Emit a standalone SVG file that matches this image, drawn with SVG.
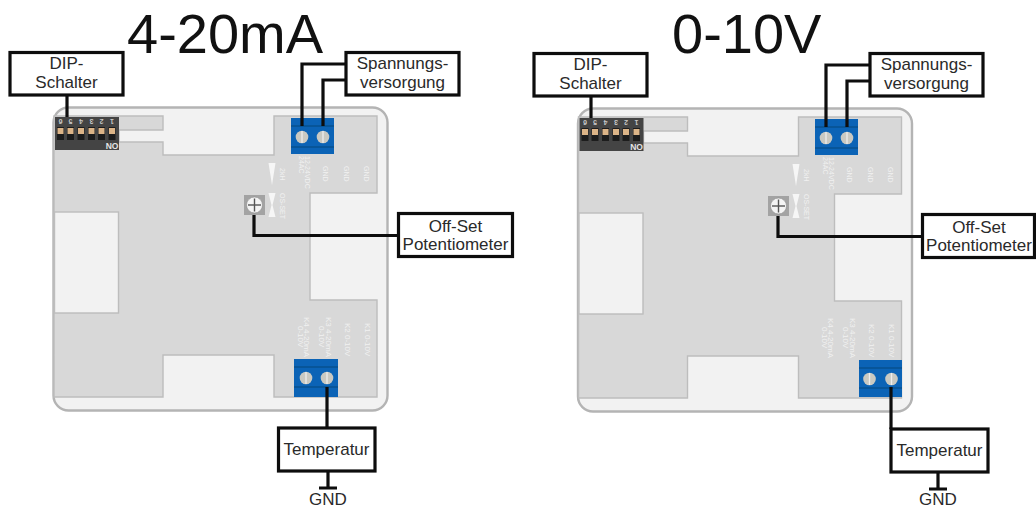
<svg xmlns="http://www.w3.org/2000/svg" width="1036" height="507" viewBox="0 0 1036 507">
<style>
text{font-family:"Liberation Sans",Arial,sans-serif}
.title{font-size:56px;fill:#111}
.lbl{font-size:17px;fill:#2a2a2a;text-anchor:middle}
.box{fill:#fff;stroke:#0d0d0d;stroke-width:3.2}
.wire{fill:none;stroke:#0d0d0d;stroke-width:3.2}
.pcb{fill:#f2f2f2;stroke:#b4b4b4;stroke-width:2.4}
.cu{fill:#d8d8d8;stroke:#bdbdbd;stroke-width:1.4}
.cut{fill:#f2f2f2;stroke:#bdbdbd;stroke-width:1.4}
.dip{fill:#444}
.slot{fill:#1c1c1c}
.sw{fill:#dcb487}
.n{font-size:7px;font-weight:bold;fill:#c8c8c8;text-anchor:middle}
.no{font-size:8.5px;font-weight:bold;fill:#e4e4e4;text-anchor:middle}
.term{fill:#0b63b6}
.ln{stroke:#07508f;stroke-width:1.4}
.screw{fill:#c9c9c2}
.slit{stroke:#eee;stroke-width:1.3}
.silk{font-size:7px;fill:#f1f1f1}
.k{font-size:8px}
.tri{fill:#f6f6f6}
.pots{fill:#a3a3a3}
.potc{fill:#f4f4f4;stroke:#8a8a8a;stroke-width:.6}
.plus{stroke:#555;stroke-width:1.4}
</style>
<defs>
<path id="cu-shape" d="M54 116H163V130H119V142H163V155H274V116H377V193H310V300H377V397H274V355H163V397H54Z"/>
</defs>

<text id="title-left" class="title" x="127" y="53">4-20mA</text>
<text id="title-right" class="title" x="672" y="53">0-10V</text>

<g id="board-left">
<rect class="pcb" x="53.5" y="107.5" width="334" height="303" rx="15"/>
<use href="#cu-shape" class="cu"/>
<rect class="cut" x="54.5" y="212" width="64" height="101"/>
</g>

<g id="board-right" transform="translate(524.5,1)">
<rect class="pcb" x="53.5" y="107.5" width="334" height="303" rx="15"/>
<use href="#cu-shape" class="cu"/>
<rect class="cut" x="54.5" y="212" width="64" height="101"/>
</g>

<g id="dip-left">
<rect class="dip" x="55" y="117" width="64" height="33"/>
<g class="slot"><rect x="57" y="127" width="7" height="13"/><rect x="67" y="127" width="7" height="13"/><rect x="77.500" y="127" width="7" height="13"/><rect x="88" y="127" width="7" height="13"/><rect x="98" y="127" width="7" height="13"/><rect x="108.500" y="127" width="7" height="13"/></g>
<g class="sw"><rect x="57.500" y="128" width="6" height="6"/><rect x="67.500" y="128" width="6" height="6"/><rect x="78" y="128" width="6" height="6"/><rect x="88.500" y="128" width="6" height="6"/><rect x="98.500" y="128" width="6" height="6"/><rect x="109" y="128" width="6" height="6"/></g>
<g class="n">
<text transform="rotate(180 60.500 121.500)" x="60.500" y="124">6</text>
<text transform="rotate(180 70.500 121.500)" x="70.500" y="124">5</text>
<text transform="rotate(180 81 121.500)" x="81" y="124">4</text>
<text transform="rotate(180 91.500 121.500)" x="91.500" y="124">3</text>
<text transform="rotate(180 101.500 121.500)" x="101.500" y="124">2</text>
<text transform="rotate(180 112 121.500)" x="112" y="124">1</text>
</g>
<text class="no" x="112" y="149">NO</text>
</g>

<g id="dip-right" transform="translate(524.5,1)">
<rect class="dip" x="55" y="117" width="64" height="33"/>
<g class="slot"><rect x="57" y="127" width="7" height="13"/><rect x="67" y="127" width="7" height="13"/><rect x="77.500" y="127" width="7" height="13"/><rect x="88" y="127" width="7" height="13"/><rect x="98" y="127" width="7" height="13"/><rect x="108.500" y="127" width="7" height="13"/></g>
<g class="sw"><rect x="57.500" y="128" width="6" height="6"/><rect x="67.500" y="128" width="6" height="6"/><rect x="78" y="128" width="6" height="6"/><rect x="88.500" y="128" width="6" height="6"/><rect x="98.500" y="128" width="6" height="6"/><rect x="109" y="128" width="6" height="6"/></g>
<g class="n">
<text transform="rotate(180 60.500 121.500)" x="60.500" y="124">6</text>
<text transform="rotate(180 70.500 121.500)" x="70.500" y="124">5</text>
<text transform="rotate(180 81 121.500)" x="81" y="124">4</text>
<text transform="rotate(180 91.500 121.500)" x="91.500" y="124">3</text>
<text transform="rotate(180 101.500 121.500)" x="101.500" y="124">2</text>
<text transform="rotate(180 112 121.500)" x="112" y="124">1</text>
</g>
<text class="no" x="112" y="149">NO</text>
</g>

<g id="terminal-top-left">
<rect class="term" x="291" y="118" width="43" height="36"/>
<line class="ln" x1="291" x2="334" y1="126" y2="126"/><line class="ln" x1="291" x2="334" y1="147" y2="147"/>
<circle class="screw" cx="302" cy="137" r="6.300"/><line class="slit" x1="302" x2="302" y1="131" y2="143"/>
<circle class="screw" cx="323" cy="137" r="6.300"/><line class="slit" x1="323" x2="323" y1="131" y2="143"/>
</g>
<g id="terminal-top-right" transform="translate(524,1)">
<rect class="term" x="291" y="118" width="43" height="36"/>
<line class="ln" x1="291" x2="334" y1="126" y2="126"/><line class="ln" x1="291" x2="334" y1="147" y2="147"/>
<circle class="screw" cx="302" cy="137" r="6.300"/><line class="slit" x1="302" x2="302" y1="131" y2="143"/>
<circle class="screw" cx="323" cy="137" r="6.300"/><line class="slit" x1="323" x2="323" y1="131" y2="143"/>
</g>
<g id="terminal-bottom-left">
<rect class="term" x="294" y="359" width="44" height="38"/>
<line class="ln" x1="294" x2="338" y1="367" y2="367"/><line class="ln" x1="294" x2="338" y1="387" y2="387"/>
<circle class="screw" cx="306" cy="378" r="6.300"/><line class="slit" x1="306" x2="306" y1="372" y2="384"/>
<circle class="screw" cx="327" cy="378" r="6.300"/><line class="slit" x1="327" x2="327" y1="372" y2="384"/>
</g>
<g id="terminal-bottom-right">
<rect class="term" x="859" y="360" width="43" height="37"/>
<line class="ln" x1="859" x2="902" y1="368" y2="368"/><line class="ln" x1="859" x2="902" y1="388" y2="388"/>
<circle class="screw" cx="869.500" cy="379" r="6.300"/><line class="slit" x1="869.500" x2="869.500" y1="373" y2="385"/>
<circle class="screw" cx="891.500" cy="379" r="6.300"/><line class="slit" x1="891.500" x2="891.500" y1="373" y2="385"/>
</g>

<g id="silk-left" class="silk">
<text transform="translate(304.500,156) rotate(90)">12-24VDC</text>
<text transform="translate(298.500,156) rotate(90)">24AC</text>
<text transform="translate(322.500,166) rotate(90)">GND</text>
<text transform="translate(343.500,166) rotate(90)">GND</text>
<text transform="translate(363.500,166) rotate(90)">GND</text>
<text transform="translate(279.500,168) rotate(90)">2kH</text>
<text transform="translate(279.500,193) rotate(90)">OS-SET</text>
<text class="k" transform="translate(303.500,317) rotate(90)">K4 4-20mA</text>
<text class="k" transform="translate(297.500,326) rotate(90)">0-10V</text>
<text class="k" transform="translate(325.500,317) rotate(90)">K3 4-20mA</text>
<text class="k" transform="translate(319,326) rotate(90)">0-10V</text>
<text class="k" transform="translate(344.500,323) rotate(90)">K2 0-10V</text>
<text class="k" transform="translate(364.500,323) rotate(90)">K1 0-10V</text>
<path class="tri" d="M268.500 163H275.500L272 185Z"/>
<path class="tri" d="M268.500 193H275.500L272.500 205L275.500 217H268.500L271.500 205Z"/>
</g>
<g id="silk-right" class="silk" transform="translate(524,1)">
<text transform="translate(304.500,156) rotate(90)">12-24VDC</text>
<text transform="translate(298.500,156) rotate(90)">24AC</text>
<text transform="translate(322.500,166) rotate(90)">GND</text>
<text transform="translate(343.500,166) rotate(90)">GND</text>
<text transform="translate(363.500,166) rotate(90)">GND</text>
<text transform="translate(279.500,168) rotate(90)">2kH</text>
<text transform="translate(279.500,193) rotate(90)">OS-SET</text>
<text class="k" transform="translate(303.500,317) rotate(90)">K4 4-20mA</text>
<text class="k" transform="translate(297.500,326) rotate(90)">0-10V</text>
<text class="k" transform="translate(325.500,317) rotate(90)">K3 4-20mA</text>
<text class="k" transform="translate(319,326) rotate(90)">0-10V</text>
<text class="k" transform="translate(344.500,323) rotate(90)">K2 0-10V</text>
<text class="k" transform="translate(364.500,323) rotate(90)">K1 0-10V</text>
<path class="tri" d="M268.500 163H275.500L272 185Z"/>
<path class="tri" d="M268.500 193H275.500L272.500 205L275.500 217H268.500L271.500 205Z"/>
</g>

<g id="poti-left">
<rect class="pots" x="244" y="195" width="21" height="20"/>
<circle class="potc" cx="254.500" cy="205" r="8"/>
<line class="plus" x1="248" x2="261" y1="205" y2="205"/><line class="plus" x1="254.500" x2="254.500" y1="198.500" y2="211.500"/>
</g>
<g id="poti-right" transform="translate(524,1)">
<rect class="pots" x="244" y="195" width="21" height="20"/>
<circle class="potc" cx="254.500" cy="205" r="8"/>
<line class="plus" x1="248" x2="261" y1="205" y2="205"/><line class="plus" x1="254.500" x2="254.500" y1="198.500" y2="211.500"/>
</g>

<g id="connectors">
<path class="wire" d="M67 95V117"/>
<path class="wire" d="M345 64H302V126"/>
<path class="wire" d="M345 80H323V126"/>
<path class="wire" d="M254 215V235.500H398"/>
<path class="wire" d="M327 387V428"/>
<path class="wire" d="M328 471V488M319 488H337"/>
<path class="wire" d="M591 96V118"/>
<path class="wire" d="M869 65H826V127"/>
<path class="wire" d="M869 81H847V127"/>
<path class="wire" d="M778 216V236.500H922"/>
<path class="wire" d="M891 387V429"/>
<path class="wire" d="M938 472V489M929 489H947"/>
</g>

<g id="label-dip-left"><rect class="box" x="10" y="52.500" width="113" height="42.500"/><text class="lbl" x="66.500" y="69">DIP-</text><text class="lbl" x="66.500" y="88">Schalter</text></g>
<g id="label-power-left"><rect class="box" x="346" y="52.500" width="113" height="42.500"/><text class="lbl" x="402.500" y="69">Spannungs-</text><text class="lbl" x="402.500" y="88">versorgung</text></g>
<g id="label-offset-left"><rect class="box" x="398.500" y="213.500" width="114" height="43"/><text class="lbl" x="455.500" y="232">Off-Set</text><text class="lbl" x="455.500" y="250">Potentiometer</text></g>
<g id="label-temp-left"><rect class="box" x="278.500" y="428" width="96.500" height="43"/><text class="lbl" x="326.500" y="455">Temperatur</text></g>
<g id="label-gnd-left"><text class="lbl" x="328" y="505">GND</text></g>

<g id="label-dip-right"><rect class="box" x="534" y="53.500" width="113" height="42.500"/><text class="lbl" x="590.500" y="70">DIP-</text><text class="lbl" x="590.500" y="89">Schalter</text></g>
<g id="label-power-right"><rect class="box" x="870" y="53.500" width="113" height="42.500"/><text class="lbl" x="926.500" y="70">Spannungs-</text><text class="lbl" x="926.500" y="89">versorgung</text></g>
<g id="label-offset-right"><rect class="box" x="922.500" y="214.500" width="112" height="43"/><text class="lbl" x="979" y="233">Off-Set</text><text class="lbl" x="979" y="251">Potentiometer</text></g>
<g id="label-temp-right"><rect class="box" x="891" y="429" width="97" height="43"/><text class="lbl" x="939.500" y="456">Temperatur</text></g>
<g id="label-gnd-right"><text class="lbl" x="938" y="505">GND</text></g>
</svg>
